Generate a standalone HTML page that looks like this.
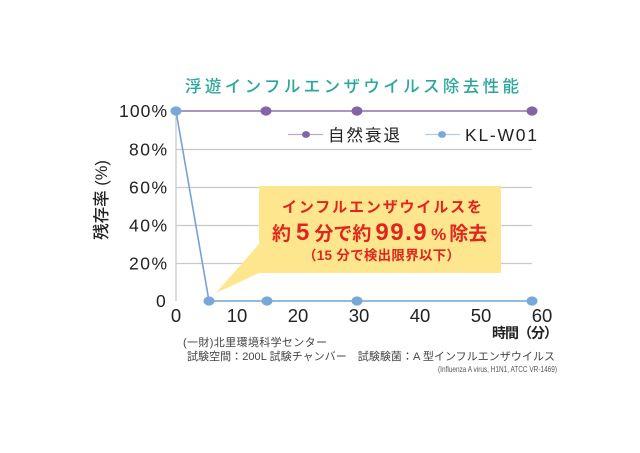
<!DOCTYPE html>
<html><head><meta charset="utf-8"><style>
html,body{margin:0;padding:0;background:#fff;}
svg{display:block;}
text{font-family:"Liberation Sans","Noto Sans CJK JP",sans-serif;}
</style></head><body>
<svg width="640" height="453" viewBox="0 0 640 453" xmlns="http://www.w3.org/2000/svg">
<rect width="640" height="453" fill="#fff"/>
<!-- title -->
<text x="185" y="92" font-size="16.5" fill="#2aa69c" textLength="334" lengthAdjust="spacing" font-weight="500">浮遊インフルエンザウイルス除去性能</text>
<!-- gridlines -->
<g stroke="#c9c9c9" stroke-width="1.3">
<line x1="176" y1="149.5" x2="532" y2="149.5"/>
<line x1="176" y1="187.5" x2="532" y2="187.5"/>
<line x1="176" y1="225.5" x2="532" y2="225.5"/>
<line x1="176" y1="263.5" x2="532" y2="263.5"/>
<line x1="176" y1="111" x2="176" y2="301"/>
</g>
<!-- callout -->
<rect x="259" y="186" width="242" height="87" fill="#fde68e"/>
<polygon points="259,244 216,293 259,273" fill="#fde68e"/>
<text x="282" y="212" font-size="15" font-weight="bold" fill="#e0261c" textLength="200" lengthAdjust="spacing">インフルエンザウイルスを</text>
<text x="272" y="240" fill="#e0261c" font-weight="bold"><tspan font-size="19">約</tspan><tspan font-size="24" dx="5">5</tspan><tspan font-size="19" dx="5">分で約</tspan><tspan font-size="24" dx="4" letter-spacing="1.5">99.9</tspan><tspan font-size="17" dx="3">%</tspan><tspan font-size="19" dx="3">除去</tspan></text>
<text x="303" y="260" font-size="13.5" font-weight="bold" fill="#e0261c" textLength="157" lengthAdjust="spacing">（15 分で検出限界以下）</text>
<!-- series: natural decay -->
<line x1="176" y1="111" x2="532" y2="111" stroke="#8d74b2" stroke-width="1.6"/>
<g fill="#8165a6">
<ellipse cx="266" cy="111" rx="5.5" ry="4.6"/>
<ellipse cx="357" cy="111" rx="5.5" ry="4.6"/>
<ellipse cx="532" cy="111" rx="5.5" ry="4.6"/>
</g>
<!-- series: KL-W01 -->
<polyline points="176,111 209,301 532,301" fill="none" stroke="#74a2d4" stroke-width="1.6"/>
<g fill="#78a7da">
<ellipse cx="176" cy="111" rx="5.5" ry="4.6"/>
<ellipse cx="209" cy="301" rx="5.5" ry="4.6"/>
<ellipse cx="267" cy="301" rx="5.5" ry="4.6"/>
<ellipse cx="357" cy="301" rx="5.5" ry="4.6"/>
<ellipse cx="532" cy="301" rx="5.5" ry="4.6"/>
</g>
<!-- legend -->
<line x1="288" y1="134.5" x2="323" y2="134.5" stroke="#b9abd0" stroke-width="1.3"/>
<ellipse cx="306" cy="134.5" rx="4" ry="3.4" fill="#8165a6"/>
<text x="328" y="141" font-size="16.5" fill="#222" textLength="72" lengthAdjust="spacing">自然衰退</text>
<line x1="425" y1="134.5" x2="460" y2="134.5" stroke="#b5cde8" stroke-width="1.3"/>
<ellipse cx="442" cy="134.5" rx="4" ry="3.4" fill="#78a7da"/>
<text x="465" y="141" font-size="17.5" fill="#222" textLength="72" lengthAdjust="spacing">KL-W01</text>
<!-- y ticks -->
<g font-size="17.5" fill="#222">
<text x="119" y="117" textLength="48" lengthAdjust="spacing">100%</text>
<text x="129" y="155.5" textLength="38" lengthAdjust="spacing">80%</text>
<text x="129" y="193.5" textLength="38" lengthAdjust="spacing">60%</text>
<text x="129" y="231.5" textLength="38" lengthAdjust="spacing">40%</text>
<text x="129" y="269.5" textLength="38" lengthAdjust="spacing">20%</text>
<text x="156" y="307" textLength="11" lengthAdjust="spacing">0</text>
</g>
<!-- y title -->
<text transform="translate(107,200) rotate(-90)" font-size="16.5" fill="#222" text-anchor="middle" font-weight="500">残存率 (%)</text>
<!-- x ticks -->
<g font-size="18.5" fill="#222" text-anchor="middle">
<text x="176" y="322">0</text>
<text x="237" y="322">10</text>
<text x="298" y="322">20</text>
<text x="359" y="322">30</text>
<text x="420" y="322">40</text>
<text x="481" y="322">50</text>
<text x="542" y="322">60</text>
</g>
<text x="492" y="338" font-size="14" font-weight="bold" fill="#222" textLength="66" lengthAdjust="spacing">時間（分）</text>
<!-- footer -->
<text x="183" y="346" font-size="11" fill="#444" textLength="144" lengthAdjust="spacing">(一財)北里環境科学センター</text>
<text x="187" y="360" font-size="11" fill="#444" textLength="368" lengthAdjust="spacing">試験空間：200L 試験チャンバー　試験験菌：A 型インフルエンザウイルス</text>
<text x="438" y="372" font-size="8.5" fill="#555" textLength="119" lengthAdjust="spacingAndGlyphs">(Influenza A virus, H1N1, ATCC VR-1469)</text>
</svg>
</body></html>
